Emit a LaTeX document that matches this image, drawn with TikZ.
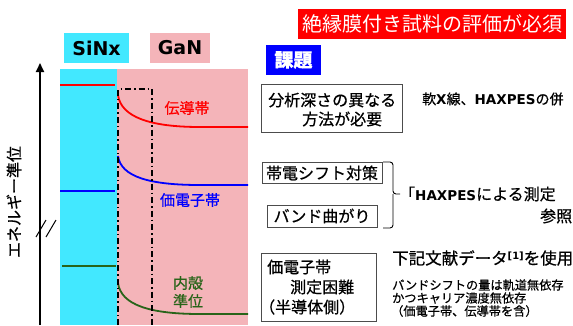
\documentclass[tikz,border=0pt]{standalone}
\usepackage{fontspec}
\usetikzlibrary{arrows.meta}
\setmainfont{Noto Sans CJK JP}[FakeBold=0.6]
\newfontfamily\jpr{Noto Sans CJK JP}
\newfontfamily\lat{DejaVu Sans}
\definecolor{sinx}{RGB}{66,232,255}
\definecolor{gan}{RGB}{244,180,185}
\definecolor{dgreen}{RGB}{40,100,25}
\definecolor{bblue}{RGB}{0,0,255}
\definecolor{rred}{RGB}{255,0,0}
\newcommand{\hx}[1]{{\lat\bfseries\fontsize{13.5}{16}\selectfont #1}}
\begin{document}
\begin{tikzpicture}[x=1pt,y=-1pt,
  jp/.style={font=\fontsize{16}{19}\selectfont, inner sep=0pt},
  sm/.style={font=\fontsize{12.2}{15}\selectfont, inner sep=0pt, anchor=west},
  tbox/.style={draw=black!70, line width=0.9pt, fill=white},
  lvl/.style={line width=1.8pt},
  dd/.style={line width=1.3pt, dash pattern=on 6pt off 3pt on 1.5pt off 3pt},
  lbl/.style={inner sep=0pt, font=\fontsize{15}{18}\selectfont}]
\clip (0,0) rectangle (573,325);
\fill[white] (0,0) rectangle (573,325);

% regions
\fill[sinx] (60,69) rectangle (117,325);
\fill[gan] (117,69) rectangle (248,325);
\node[fill=sinx, minimum width=65pt, minimum height=30pt, inner sep=0pt,
  font=\lat\bfseries\fontsize{19}{22}\selectfont] (lsinx) at (96.5,48) {SiNx};
\node[fill=gan, minimum width=60pt, minimum height=30pt, inner sep=0pt,
  font=\lat\bfseries\fontsize{19}{22}\selectfont] (lgan) at (180,48) {GaN};

% levels in SiNx
\draw[lvl, rred] (60,85) -- (115,85);
\draw[lvl, bblue] (60,191) -- (115,191);
\draw[lvl, dgreen] (62,266) -- (116,266);

% bands in GaN
\draw[lvl, rred] (118,95) .. controls (121,117) and (150,127) .. (200,127) -- (248,127);
\draw[lvl, bblue] (118,156) .. controls (121,177) and (150,185) .. (200,185) -- (248,185);
\draw[lvl, dgreen] (118,283) .. controls (121,305) and (150,314) .. (200,314) -- (248,314);

% dash-dot frame
\draw[dd] (118,325) -- (118,89) -- (152,89) -- (152,325);

% band labels
\node[lbl, text=rred] (tcb) at (187,108) {伝導帯};
\node[lbl, text=bblue] (tvb) at (190,200) {価電子帯};
\node[lbl, text=dgreen, align=center, font=\fontsize{15}{18}\selectfont] (tcl) at (188,292) {内殻\\準位};

% axis
\coordinate (ab) at (40,325);
\coordinate (at) at (40,63);
\draw[line width=2pt, -{Triangle[length=9pt,width=8pt]}] (ab) -- (at);
\draw[line width=1pt] (36,237) -- (46,220);
\draw[line width=1pt] (46,237) -- (56,220);
\node[rotate=90, inner sep=0pt, font=\fontsize{16}{19}\selectfont] (yl) at (14,202) {エネルギー準位};

% title boxes
\node[fill=rred, text=white, minimum width=268pt, minimum height=30pt, inner sep=0pt,
  font=\jpr\fontsize{20}{24}\selectfont] (ttl) at (432,24) {絶縁膜付き試料の評価が必須};
\node[fill=bblue, text=white, minimum width=55pt, minimum height=30pt, inner sep=0pt,
  font=\bfseries\fontsize{19}{22}\selectfont] (kd) at (293.5,60) {課題};

% box 1
\node[tbox, minimum width=141pt, minimum height=48pt, inner sep=0pt] (b1) at (331.5,108) {};
\node[jp, anchor=west] (b1a) at (268,100) {分析深さの異なる};
\node[jp, anchor=west] (b1b) at (302,119) {方法が必要};
\node[inner sep=0pt, anchor=west, font=\fontsize{14}{17}\selectfont] (r1) at (422,99) {軟\hx{X}線、\hx{HAXPES}の併};

% box 2, 3
\node[tbox, minimum width=120pt, minimum height=21pt, inner sep=0pt, jp] (b2) at (322,173) {帯電シフト対策};
\node[tbox, minimum width=110pt, minimum height=22pt, inner sep=0pt, jp] (b3) at (322,216) {バンド曲がり};
\draw[line width=0.9pt, rounded corners=3pt] (383,162) -| (393,194) -- (400,194);
\draw[line width=0.9pt, rounded corners=3pt] (383,228) -| (393,194);
\node[jp, anchor=west] (r2) at (399,194) {「\hx{HAXPES}による測定};
\node[jp, anchor=west] (r3) at (540,216) {参照};

% box 4
\node[tbox, minimum width=115pt, minimum height=68pt, inner sep=0pt] (b4) at (318.5,287) {};
\node[jp, anchor=west] (b4a) at (267,267) {価電子帯};
\node[jp, anchor=west] (b4b) at (290,287) {測定困難};
\node[jp, anchor=west] (b4c) at (259,307) {（半導体側）};

\node[jp, anchor=west, font=\fontsize{16.5}{19}\selectfont] (r4) at (392,258) {下記文献データ\raisebox{5pt}{\lat\bfseries\fontsize{10}{11}\selectfont [1]}を使用};
\node[sm] (r5) at (392,285) {バンドシフトの量は軌道無依存};
\node[sm] (r6) at (392,298) {かつキャリア濃度無依存};
\node[sm] (r7) at (391,311) {（価電子帯、伝導帯を含）};
\end{tikzpicture}
\end{document}
